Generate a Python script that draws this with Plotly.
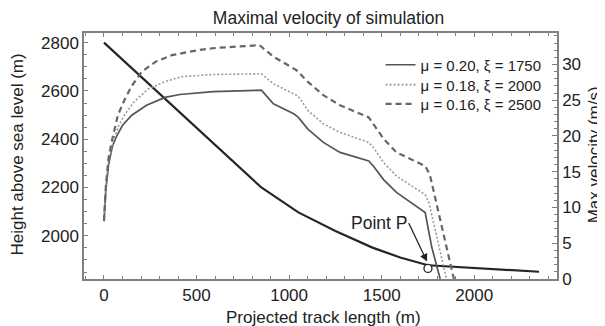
import plotly.graph_objects as go

# Elevation profile (left axis)
track_x = [0, 850, 1050, 1250, 1450, 1600, 1750, 2350]
height = [2800, 2200, 2097, 2020, 1951, 1910, 1878, 1851]

# Max velocity curves (right axis)
x_a = [0, 10, 25, 45, 65, 100, 150, 230, 330, 410, 590, 850, 915, 1025, 1050, 1100,
       1185, 1275, 1430, 1455, 1510, 1580, 1735, 1770, 1816]
v_a = [8.1, 12.5, 16.0, 18.5, 19.8, 21.5, 22.9, 24.3, 25.4, 25.8, 26.2, 26.4, 24.5, 23.1,
       22.6, 21.0, 19.1, 17.7, 16.5, 15.8, 13.9, 12.1, 9.3, 4.5, 0]

x_b = [0, 10, 25, 54, 80, 110, 160, 240, 330, 420, 590, 850, 915, 1040, 1060, 1100,
       1185, 1275, 1430, 1455, 1510, 1580, 1735, 1755, 1850]
v_b = [8.1, 12.8, 16.5, 19.6, 21.5, 22.9, 24.7, 26.6, 27.6, 28.3, 28.6, 28.7, 27.3, 25.7,
       25.2, 23.6, 21.7, 20.5, 19.1, 18.4, 16.3, 14.4, 11.8, 10.7, 0]

x_c = [0, 10, 25, 45, 75, 110, 150, 204, 280, 366, 508, 600, 840, 915, 1040, 1060, 1100,
       1185, 1275, 1430, 1455, 1510, 1580, 1735, 1760, 1890]
v_c = [8.1, 13.0, 17.0, 19.6, 22.9, 25.0, 27.0, 29.0, 30.4, 31.3, 32.0, 32.3, 32.7, 31.1,
       29.2, 28.7, 27.6, 25.7, 24.3, 22.6, 21.7, 19.6, 17.7, 15.8, 14.6, 0]

labels = ["\u03bc = 0.20, \u03be = 1750", "\u03bc = 0.18, \u03be = 2000", "\u03bc = 0.16, \u03be = 2500"]

point_p_x = [1750]
point_p_h = [1865]

FONT = "Liberation Sans, Arial, sans-serif"
AX = "#808080"
TXT = "#222"

fig = go.Figure()
fig.add_trace(go.Scatter(x=track_x, y=height, mode="lines", showlegend=False,
                         line=dict(color="#262626", width=2.2), yaxis="y"))
fig.add_trace(go.Scatter(x=x_a, y=v_a, mode="lines", name=labels[0], legend="legend",
                         line=dict(color="#555555", width=1.7), yaxis="y2"))
fig.add_trace(go.Scatter(x=x_b, y=v_b, mode="lines", name=labels[1], legend="legend2",
                         line=dict(color="#999999", width=1.6, dash="2px,2px"), yaxis="y2"))
fig.add_trace(go.Scatter(x=x_c, y=v_c, mode="lines", name=labels[2], legend="legend3",
                         line=dict(color="#666666", width=2.2, dash="6px,4px"), yaxis="y2"))
fig.add_trace(go.Scatter(x=point_p_x, y=point_p_h, mode="markers", showlegend=False,
                         marker=dict(size=8, color="white", line=dict(color="#222", width=1.3)),
                         yaxis="y"))

leg_common = dict(x=0.627, xanchor="left", yanchor="middle", bgcolor="rgba(0,0,0,0)",
                  font=dict(size=15, color=TXT), itemwidth=30)

fig.update_layout(
    width=597, height=318,
    margin=dict(l=76, r=48, t=25, b=47, autoexpand=False),
    paper_bgcolor="white", plot_bgcolor="white",
    font=dict(family=FONT, size=17, color=TXT),
    title=dict(text="Maximal velocity of simulation", x=0.537, xanchor="center",
               y=0.9686, yanchor="middle", font=dict(size=17.5, color=TXT)),
    showlegend=True,
    legend=dict(y=0.870, **leg_common),
    legend2=dict(y=0.789, **leg_common),
    legend3=dict(y=0.711, **leg_common),
    xaxis=dict(range=[-108, 2447], tickvals=[0, 500, 1000, 1500, 2000], automargin=False,
               showline=True, linecolor=AX, linewidth=1.5, mirror="ticks",
               ticks="inside", ticklen=4, tickcolor=AX, showgrid=False, zeroline=False,
               minor=dict(dtick=100, ticks="inside", ticklen=3, tickcolor=AX, showgrid=False)),
    yaxis=dict(range=[1821, 2840], tickvals=[2000, 2200, 2400, 2600, 2800], automargin=False,
               showline=True, linecolor=AX, linewidth=1.5, ticks="inside", ticklen=4,
               tickcolor=AX, showgrid=False, zeroline=False,
               minor=dict(dtick=50, ticks="inside", ticklen=3, tickcolor=AX, showgrid=False)),
    yaxis2=dict(range=[0, 34.4], tickvals=[0, 5, 10, 15, 20, 25, 30], overlaying="y",
                side="right", showline=True, linecolor=AX, linewidth=1.5, ticks="inside",
                ticklen=5, tickcolor=AX, showgrid=False, zeroline=False, automargin=False,
                minor=dict(dtick=1, ticks="inside", ticklen=3, tickcolor=AX, showgrid=False)),
    annotations=[
        dict(text="Projected track length (m)", xref="paper", yref="paper", x=0.507, y=-0.1585,
             xanchor="center", yanchor="middle", showarrow=False, font=dict(size=17, color=TXT)),
        dict(text="Height above sea level (m)", xref="paper", yref="paper", x=-0.1395, y=0.506,
             xanchor="center", yanchor="middle", textangle=-90, showarrow=False,
             font=dict(size=17, color=TXT)),
        dict(text="Max velocity (m/s)", xref="paper", yref="paper", x=1.08, y=0.506,
             xanchor="center", yanchor="middle", textangle=-90, showarrow=False,
             font=dict(size=17, color=TXT)),
        dict(x=1745, y=1893, xref="x", yref="y", text="", showarrow=True,
             ax=-19, ay=-40, arrowhead=2, arrowsize=1.3, arrowwidth=1.2, arrowcolor="#222"),
        dict(x=1485, y=2053, xref="x", yref="y", text="Point P", showarrow=False,
             font=dict(size=17.5, color=TXT), xanchor="center", yanchor="middle"),
    ],
)

fig.write_html("out.html")
